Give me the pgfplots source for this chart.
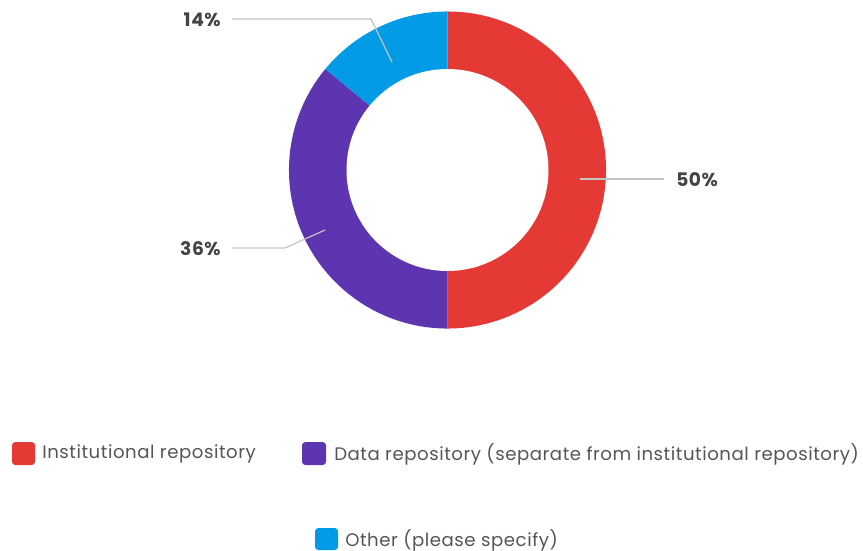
\documentclass[border=0pt]{standalone}
\usepackage{pgfplots}
\pgfplotsset{compat=1.18}
\usepackage{pgfplotstable}
\usepackage{fontspec}
\setmainfont{Poppins}
\newfontfamily\legfont[LetterSpace=3]{Poppins}
\definecolor{cRed}{HTML}{E53935}
\definecolor{cPur}{HTML}{5E35B1}
\definecolor{cBlu}{HTML}{039BE5}
\definecolor{cTxt}{HTML}{555555}
\definecolor{cPct}{HTML}{444444}
\definecolor{cLine}{HTML}{C4C4C4}

\pgfplotstableread{
label value
Institutional 50
Data 36
Other 14
}\shares
\pgfplotstablegetelem{0}{value}\of\shares \let\vA\pgfplotsretval
\pgfplotstablegetelem{1}{value}\of\shares \let\vB\pgfplotsretval
\pgfplotstablegetelem{2}{value}\of\shares \let\vC\pgfplotsretval
\pgfmathsetmacro{\aA}{90}
\pgfmathsetmacro{\aB}{90-3.6*\vA}
\pgfmathsetmacro{\aC}{\aB-3.6*\vB}
\pgfmathsetmacro{\aD}{\aC-3.6*\vC}

\begin{document}
\begin{tikzpicture}
\begin{axis}[
  scale only axis, x=0.75pt, y=0.75pt,
  xmin=0, xmax=863, ymin=0, ymax=550, y dir=reverse,
  hide axis, clip=false]
\path (axis cs:0,0) rectangle (axis cs:863,550);
% donut
\fill[cRed] (axis cs:447.5,170) -- +(\aA:118.9pt) arc[start angle=\aA, end angle=\aB, radius=118.9pt] -- cycle;
\fill[cPur] (axis cs:447.5,170) -- +(\aB:118.9pt) arc[start angle=\aB, end angle=\aC, radius=118.9pt] -- cycle;
\fill[cBlu] (axis cs:447.5,170) -- +(\aC:118.9pt) arc[start angle=\aC, end angle=\aD, radius=118.9pt] -- cycle;
\fill[white] (axis cs:447.5,170) circle[radius=75.75pt];
% leader lines
\draw[cLine, line width=0.9pt] (axis cs:580,179) -- (axis cs:664,179);
\draw[cLine, line width=0.9pt] (axis cs:392,62) -- (axis cs:371,19) -- (axis cs:232,19);
\draw[cLine, line width=0.9pt] (axis cs:325,230) -- (axis cs:285,248) -- (axis cs:232,248);
% labels
\node[anchor=west, text=cPct, font=\legfont\fontsize{14}{16}\selectfont\bfseries, inner sep=0pt] at (axis cs:676,180) {50\%};
\node[anchor=east, text=cPct, font=\legfont\fontsize{14}{16}\selectfont\bfseries, inner sep=0pt] at (axis cs:221,20) {14\%};
\node[anchor=east, text=cPct, font=\legfont\fontsize{14}{16}\selectfont\bfseries, inner sep=0pt] at (axis cs:221,249) {36\%};
% legend
\fill[cRed, rounded corners=2.5pt] (axis cs:12,442) rectangle (axis cs:35,465);
\node[anchor=west, text=cTxt, font=\legfont\fontsize{13.6}{15}\selectfont, inner sep=0pt] at (axis cs:42,454) {Institutional repository};
\fill[cPur, rounded corners=2.5pt] (axis cs:302,442) rectangle (axis cs:326,465);
\node[anchor=west, text=cTxt, font=\legfont\fontsize{13.6}{15}\selectfont, inner sep=0pt] at (axis cs:334,454) {Data repository (separate from institutional repository)};
\fill[cBlu, rounded corners=2.5pt] (axis cs:315,528) rectangle (axis cs:338,550);
\node[anchor=west, text=cTxt, font=\legfont\fontsize{13.6}{15}\selectfont, inner sep=0pt] at (axis cs:345,540) {Other (please specify)};
\end{axis}
\end{tikzpicture}
\end{document}
